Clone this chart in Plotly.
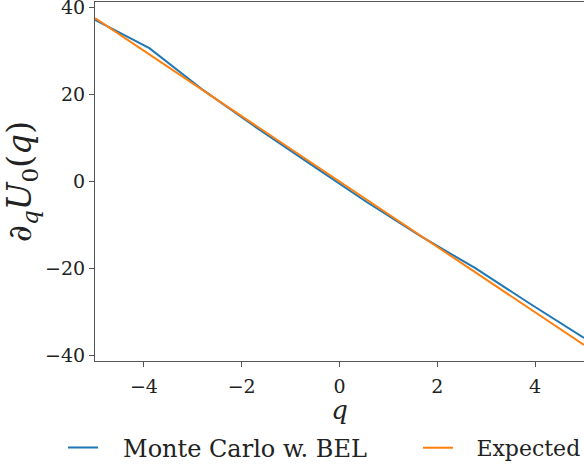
import numpy as np
import plotly.graph_objects as go

# Data
q_mc = [-5.0, -3.889, -2.778, -1.667, -0.556, 0.556, 1.667, 2.778, 3.889, 5.0]
dU_mc = [37.1, 30.6, 20.9, 12.1, 3.7, -4.7, -12.6, -19.9, -28.0, -35.9]
q_exp = [-5.0, 5.0]
dU_exp = [37.5, -37.5]

font_family = "DejaVu Serif"
axis_color = "#555555"
pad = "\u00a0\u00a0\u2009"

fig = go.Figure()
fig.add_trace(go.Scatter(x=q_mc, y=dU_mc, mode="lines", name=pad + "Monte Carlo w. BEL",
                         line=dict(color="#1f77b4", width=2), legend="legend"))
fig.add_trace(go.Scatter(x=q_exp, y=dU_exp, mode="lines", name=pad + "Expected",
                         line=dict(color="#ff7f0e", width=2), legend="legend2"))

leg_common = dict(orientation="h", xref="container", yref="container", xanchor="left",
                  yanchor="middle", y=0.053, itemwidth=30, bgcolor="rgba(0,0,0,0)")

fig.update_layout(
    width=584, height=473,
    margin=dict(l=95, r=0, t=2, b=112, autoexpand=False),
    paper_bgcolor="white", plot_bgcolor="white",
    font=dict(family=font_family, size=19, color="#222222"),
    showlegend=True,
    legend=dict(x=63 / 584, font=dict(size=24, family=font_family), **leg_common),
    legend2=dict(x=418 / 584, font=dict(size=22, family=font_family), **leg_common),
)
fig.update_xaxes(range=[-5, 5], tickvals=[-4, -2, 0, 2, 4], ticks="outside", ticklen=5,
                 tickcolor=axis_color, showline=True, linecolor=axis_color, linewidth=1.2,
                 mirror=True, showgrid=False, zeroline=False, ticklabeloverflow="allow",
                 ticklabelstandoff=3, automargin=False,
                 title=dict(text="<i>q</i>", font=dict(size=26), standoff=8),
                 tickfont=dict(size=19))
fig.update_yaxes(range=[-41.2, 41.2], tickvals=[-40, -20, 0, 20, 40], ticks="outside", ticklen=5,
                 tickcolor=axis_color, showline=True, linecolor=axis_color, linewidth=1.2,
                 mirror=True, showgrid=False, zeroline=False, ticklabeloverflow="allow",
                 automargin=False,
                 title=dict(text="∂<sub><i>q</i></sub><i>U</i><sub>0</sub>(<i>q</i>)\u00a0\u00a0\u00a0",
                            font=dict(size=33), standoff=8),
                 tickfont=dict(size=19))

fig.write_html("out.html")
